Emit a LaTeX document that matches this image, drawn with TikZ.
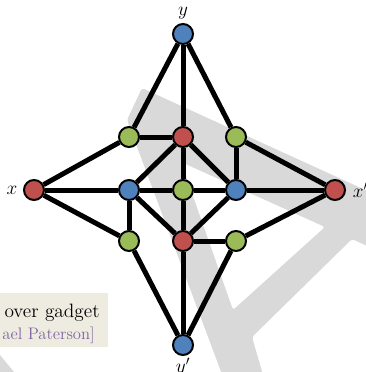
\documentclass[tikz,border=0pt]{standalone}
\usepackage{fontspec}
\usetikzlibrary{backgrounds}
\definecolor{vred}{HTML}{C0504D}
\definecolor{vgreen}{HTML}{9BBB59}
\definecolor{vblue}{HTML}{4F81BD}
\definecolor{markgray}{HTML}{D9D9D9}
\definecolor{boxbeige}{HTML}{EEECE1}
\definecolor{namepurple}{HTML}{8064A2}

\begin{document}
\begin{tikzpicture}[x=0.75pt, y=-0.75pt,
		vertex/.style={circle, draw=black, line width=1.5pt, inner sep=0pt, minimum size=15pt},
		redv/.style={vertex, fill=vred},
		greenv/.style={vertex, fill=vgreen},
		bluev/.style={vertex, fill=vblue},
		edge/.style={draw=black, line width=3.75pt},
		lab/.style={font=\fontsize{14.4}{17}\selectfont, inner sep=0pt, draw=none, fill=none}]
	\useasboundingbox (0,0) rectangle (365,372);
	\clip (0,0) rectangle (365,372);
	% background letter
	\begin{scope}[on background layer]
		\fill[markgray, even odd rule, rounded corners=2pt]
			(142,88) -- (420,215) -- (420,270) -- (352,239) -- (252,337) -- (266,385)
			-- (226,385) -- (127,120) -- cycle
			(181,162) -- (325,227) -- (233,310) -- cycle;
		\fill[markgray] (0,355) -- (14,372) -- (0,372) -- cycle;
	\end{scope}
	% caption box
	\fill[boxbeige] (-5,293) rectangle (108,347);
	\node (cap1) at (100,317) [anchor=base east, inner sep=0pt, font=\fontsize{14.5}{17}\selectfont] {over gadget};
	\node (cap2) at (95,339) [anchor=base east, inner sep=0pt, text=namepurple, font=\fontsize{12.5}{15}\selectfont] {ael Paterson]};
	% vertices
	\node (y) at (183,34) [bluev, label={[lab, label distance=2.5pt]above:$y$}] {};
	\node (gtl) at (129,137) [greenv] {};
	\node (rt) at (183,137) [redv] {};
	\node (gtr) at (236,137) [greenv] {};
	\node (x) at (34,190) [redv, label={[lab, label distance=4pt]left:$x$}] {};
	\node (bl) at (129,190) [bluev] {};
	\node (gc) at (183,190) [greenv] {};
	\node (br) at (236,190) [bluev] {};
	\node (xp) at (335,190) [redv, label={[lab, label distance=5pt]right:$x'$}] {};
	\node (gbl) at (129,241) [greenv] {};
	\node (rb) at (183,241) [redv] {};
	\node (gbr) at (236,241) [greenv] {};
	\node (yp) at (183,345) [bluev, label={[lab, label distance=1.5pt]below:$y'$}] {};
	% edges
	\begin{scope}[on background layer]
		\draw[edge] (y) -- (gtl);
		\draw[edge] (y) -- (rt);
		\draw[edge] (y) -- (gtr);
		\draw[edge] (gtl) -- (rt);
		\draw[edge] (gtl) -- (x);
		\draw[edge] (gtr) -- (br);
		\draw[edge] (gtr) -- (xp);
		\draw[edge] (rt) -- (bl);
		\draw[edge] (rt) -- (gc);
		\draw[edge] (rt) -- (br);
		\draw[edge] (x) -- (bl);
		\draw[edge] (bl) -- (gc);
		\draw[edge] (gc) -- (br);
		\draw[edge] (br) -- (xp);
		\draw[edge] (x) -- (gbl);
		\draw[edge] (bl) -- (gbl);
		\draw[edge] (bl) -- (rb);
		\draw[edge] (gc) -- (rb);
		\draw[edge] (br) -- (rb);
		\draw[edge] (rb) -- (gbr);
		\draw[edge] (gbr) -- (xp);
		\draw[edge] (rb) -- (yp);
		\draw[edge] (gbl) -- (yp);
		\draw[edge] (gbr) -- (yp);
	\end{scope}
\end{tikzpicture}
\end{document}
